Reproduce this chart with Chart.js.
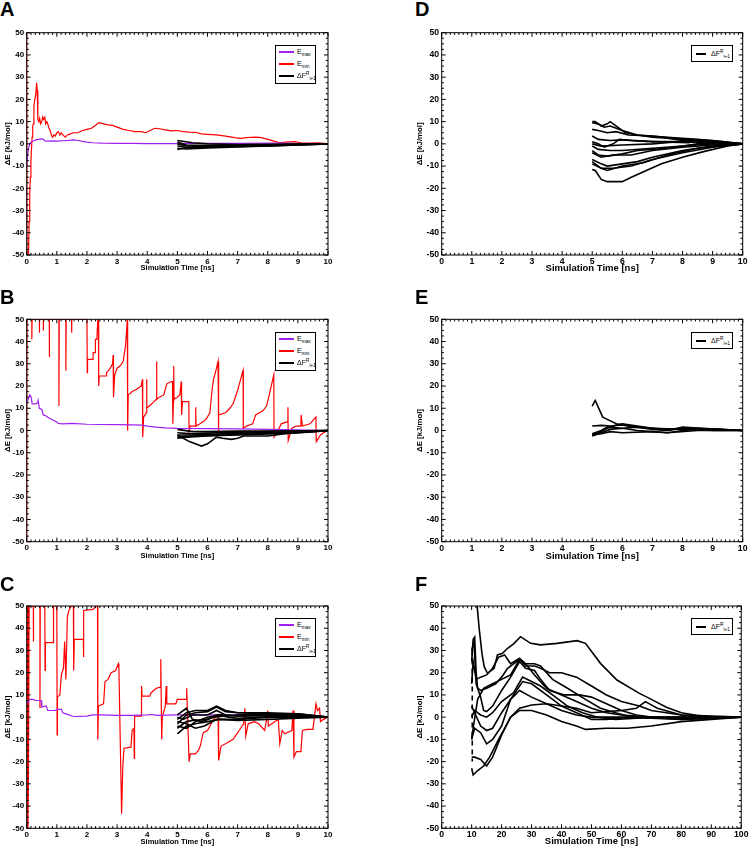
<!DOCTYPE html>
<html><head><meta charset="utf-8">
<script src="https://cdn.jsdelivr.net/npm/chart.js@4.4.1/dist/chart.umd.min.js"></script>
<style>
html,body{margin:0;padding:0;background:#fff;}
body{width:750px;height:847px;position:relative;overflow:hidden;font-family:'Liberation Sans',Arial,sans-serif;}
canvas{position:absolute;}
.pl{position:absolute;font:bold 20px 'Liberation Sans',Arial,sans-serif;line-height:20px;color:#000;}
.lg{position:absolute;border:1px solid #000;box-sizing:border-box;background:#fff;}
.it{position:absolute;left:0;top:0;height:2px;width:100%;}
.ln{position:absolute;top:0;height:2px;}
.tx{position:absolute;top:-4px;font:7px 'Liberation Sans',Arial,sans-serif;line-height:10px;white-space:nowrap;color:#000;}
.tx sub{font-size:4.8px;vertical-align:-2px;line-height:0;}
.tx sup{font-size:4.8px;vertical-align:3px;line-height:0;}
</style></head><body>
<script>
// ---------------- DATA ----------------
const xTicks10 = [0,1,2,3,4,5,6,7,8,9,10];
const xTicks100 = [0,10,20,30,40,50,60,70,80,90,100];
const yTicks = [-50,-40,-30,-20,-10,0,10,20,30,40,50];

// Panel A
const A_Emax = [[0,-10],[0.03,-5],[0.06,-2],[0.1,0],[0.15,0.8],[0.2,1.2],[0.3,1.8],[0.4,2],[0.5,2.2],[0.55,2],[0.6,1.3],[0.7,1.2],[0.85,1.3],[1.0,1.2],[1.2,1.4],[1.4,1.6],[1.55,1.8],[1.7,1.5],[1.85,1.1],[2.0,0.8],[2.2,0.5],[2.5,0.3],[3.0,0.2],[3.5,0.2],[4.0,0.1],[5.0,0.1],[6.0,0.2],[7.0,0.2],[8.0,0.3],[8.5,0.3],[9.0,0.1],[10,0]];
const A_Emin = [[0,50],[0.01,-50],[0.06,-50],[0.08,-35],[0.1,-22],[0.12,-15],[0.14,-8],[0.16,-2],[0.18,3],[0.2,8],[0.22,9],[0.24,17],[0.27,20],[0.3,22],[0.33,27.5],[0.35,24],[0.37,11],[0.4,10],[0.43,11.5],[0.46,9],[0.5,10],[0.53,12],[0.56,11],[0.6,12],[0.63,9],[0.67,10],[0.7,9],[0.74,7],[0.78,6],[0.82,4],[0.86,3],[0.9,4],[0.95,3.5],[1.0,5],[1.05,5.5],[1.1,4],[1.15,5],[1.2,4],[1.28,3],[1.35,4],[1.45,4.5],[1.55,5],[1.7,5],[1.85,6],[2.0,6.5],[2.15,7],[2.3,8.5],[2.4,9.5],[2.55,9],[2.7,8.5],[2.85,8.3],[3.0,7.5],[3.2,6.5],[3.4,6],[3.6,5.5],[3.8,5.5],[3.95,5],[4.1,6],[4.25,7],[4.4,6.8],[4.6,6.3],[4.8,5.8],[5.0,6],[5.2,5.5],[5.4,5.3],[5.6,5.2],[5.8,4.5],[6.0,4.3],[6.3,4],[6.6,3.5],[6.9,2.8],[7.1,2.5],[7.3,2.8],[7.6,3],[7.8,2.8],[8.0,2],[8.2,1.2],[8.4,0.5],[8.6,0.8],[8.9,1],[9.1,0.5],[9.4,0.3],[9.7,0.5],[10,0]];
const A_dF = [
 [[5,1.5],[5.5,0.5],[6,0],[7,-0.3],[8,-0.2],[9,-0.1],[10,0]],
 [[5,0.8],[5.3,-0.5],[6,-0.8],[7,-0.8],[8,-0.5],[9,-0.3],[10,0]],
 [[5,0],[5.3,-1],[6,-1.2],[7,-1],[8,-0.8],[9,-0.4],[10,0]],
 [[5,-1],[5.3,-1.5],[6,-1.5],[7,-1.2],[8,-0.9],[9,-0.5],[10,0]],
 [[5,-2],[5.3,-2.3],[6,-1.8],[7,-1.4],[8,-1],[9,-0.5],[10,0]],
 [[5,-2.5],[5.2,-2],[6,-1],[7,-0.7],[8,-0.4],[9,-0.2],[10,0]]
];

// Panel B
const B_Emax = [[0,13],[0.05,14],[0.1,16],[0.15,15],[0.18,12],[0.3,12],[0.36,12.5],[0.38,13.5],[0.42,10],[0.5,9.5],[0.55,7],[0.65,6.5],[0.75,5.5],[0.9,4.5],[1.0,3.8],[1.05,3.2],[1.2,3],[1.5,3.2],[2.0,2.8],[2.5,2.7],[3.0,2.6],[3.5,2.5],[3.8,2.4],[4.0,2],[4.3,1.5],[4.6,1.2],[5.0,1],[6.0,0.8],[7.0,0.7],[8.0,0.5],[9.0,0.3],[10,0]];
const B_Emin = [[0,-50],[0.01,50],[0.17,50],[0.17,41],[0.18,50],[0.42,50],[0.42,44],[0.43,50],[0.55,50],[0.55,45],[0.56,50],[0.75,50],[0.75,33],[0.76,50],[1.07,50],[1.07,11],[1.08,50],[1.3,50],[1.3,27],[1.31,50],[1.49,50],[1.49,44],[1.5,50],[2.0,50],[2.01,26],[2.02,32],[2.2,32],[2.21,35],[2.27,35],[2.28,41],[2.33,41],[2.36,50],[2.38,50],[2.39,20],[2.41,24.5],[2.64,24.5],[2.65,26],[2.72,27],[2.77,28],[2.85,30],[2.87,34],[2.88,15],[2.92,25],[3.0,28],[3.1,29],[3.2,31],[3.28,38],[3.34,50],[3.35,0],[3.37,16],[3.5,17.5],[3.65,18.5],[3.8,20],[3.84,23],[3.85,-3],[3.88,6],[3.97,8],[3.98,23],[3.99,10],[4.15,12],[4.3,14],[4.31,31],[4.32,14],[4.4,15],[4.55,16],[4.65,21],[4.8,22],[4.84,22],[4.85,3],[4.87,13],[4.88,29],[4.89,14],[5.0,15],[5.08,16],[5.13,22],[5.14,7],[5.17,13],[5.38,13],[5.39,-1],[5.42,2],[5.6,2],[5.61,10.5],[5.62,2],[5.75,3],[5.86,4],[5.95,5],[6.08,8],[6.15,18],[6.2,23],[6.3,28],[6.35,31],[6.36,-1],[6.38,7],[6.6,8],[6.74,10],[6.85,12],[7.0,18],[7.1,23],[7.18,27],[7.19,1],[7.3,2],[7.5,3],[7.6,7],[7.85,9],[7.96,11],[8.05,16],[8.15,22],[8.2,25],[8.21,-3],[8.3,-1],[8.45,3],[8.66,4],[8.67,10.5],[8.68,-4.5],[8.8,1],[8.95,2],[9.1,2],[9.11,7],[9.15,2],[9.4,3],[9.6,6],[9.61,-5],[9.75,-2],[9.85,-1],[10,0]];
const B_dF = [
 [[5,0.5],[5.5,-0.5],[6,-0.5],[7,-0.3],[8,-0.2],[9,-0.1],[10,0]],
 [[5,-1],[5.5,-1.5],[6,-1.2],[7,-0.8],[8,-0.5],[9,-0.3],[10,0]],
 [[5,-2],[5.5,-2],[6,-1.8],[7,-1.3],[8,-0.9],[9,-0.5],[10,0]],
 [[5,-3],[5.5,-2.5],[6,-2.2],[7,-1.8],[8,-1.3],[9,-0.7],[10,0]],
 [[5,-3.5],[5.3,-3],[6,-2.5],[7,-2],[8,-1.6],[9,-1],[10,0]],
 [[5,-2],[5.4,-5],[5.8,-7],[6,-6],[6.3,-3],[6.5,-3.5],[6.8,-4],[7,-3.5],[7.2,-2.5],[8,-2.5],[8.5,-1.5],[9,-1],[9.5,-0.6],[10,0]]
];

// Panel C
const C_Emax = [[0,6],[0.05,7],[0.1,8],[0.2,8],[0.3,7.5],[0.48,7.5],[0.5,4.5],[0.6,5],[0.65,5],[0.7,3],[0.95,3],[1.0,3.5],[1.15,3.5],[1.2,2],[1.3,1.5],[1.4,1],[1.5,0.5],[1.6,0.3],[2.0,0.5],[2.2,1],[2.5,1],[3.0,0.8],[3.5,0.8],[4.0,1],[4.2,1.2],[4.3,0.8],[5.0,1],[6.0,1],[7.0,1],[8.0,1],[9.0,0.8],[10,0]];
const C_Emin = [[0,-50],[0.02,50],[0.04,-50],[0.06,-24],[0.08,50],[0.22,50],[0.22,34],[0.23,50],[0.44,50],[0.44,4],[0.45,50],[0.6,50],[0.61,21],[0.62,33.5],[0.88,33.5],[0.89,50],[1.0,50],[1.01,-8],[1.02,9],[1.1,10],[1.15,19],[1.22,22],[1.26,34],[1.3,17],[1.35,45],[1.4,48],[1.48,50],[1.55,50],[1.56,21],[1.58,35],[1.88,35],[1.88,27],[1.9,48],[2.2,48.5],[2.3,50],[2.35,50],[2.36,-10],[2.38,5],[2.55,6],[2.6,16],[2.7,17],[2.8,20],[2.95,21],[3.04,24],[3.06,22],[3.15,-43.5],[3.19,-22],[3.23,-14],[3.46,-13.5],[3.5,-6],[3.56,-5],[3.57,-18.5],[3.58,0.5],[3.8,0.5],[3.81,14],[3.83,9.5],[4.08,9.5],[4.13,11],[4.3,13],[4.44,13.5],[4.45,26],[4.48,-10],[4.5,0],[4.6,5],[4.63,14],[4.65,6],[4.95,6],[5.0,8],[5.3,8],[5.31,13],[5.39,-20],[5.43,-16.5],[5.6,-16.5],[5.7,-15],[5.76,-13],[5.86,-7],[6.0,-6],[6.2,-1],[6.35,1],[6.37,-19.5],[6.45,-13],[6.6,-12],[6.85,-10],[6.95,-8],[7.05,-6],[7.2,-3],[7.24,4],[7.27,-8.5],[7.35,-3],[7.55,-2],[7.7,-3],[7.9,-6],[7.95,-2],[8.0,3],[8.02,-4],[8.35,-1],[8.4,-12],[8.48,-6],[8.56,-7.5],[8.8,-6],[8.84,3],[8.87,-18],[8.95,-15.5],[9.1,-15.5],[9.15,-6],[9.3,-5.5],[9.5,-5.5],[9.6,6],[9.65,3],[9.72,4],[9.75,-2],[9.85,-1],[10,0]];
const C_dF = [
 [[5,-1],[5.3,2],[5.6,3],[6,3],[6.3,5],[6.6,3],[7,2],[8,1.5],[9,1],[10,0]],
 [[5,-3],[5.3,1],[5.6,2],[6,2.5],[6.3,4.5],[6.6,2.5],[7,2],[8,2],[9,1.5],[10,0]],
 [[5,0],[5.2,-1],[5.5,1],[6,1],[6.3,3],[6.6,1],[7,0.5],[8,1],[9,1.5],[10,0]],
 [[5,-5],[5.3,-2],[5.5,-1.5],[6,-1],[6.3,1],[6.7,0],[7,-0.5],[8,0],[9,0],[10,0]],
 [[5,-7.5],[5.3,-4],[5.6,-3],[6,-2],[6.4,-1],[7,-1.5],[8,-1],[9,-0.5],[10,0]],
 [[5,-2],[5.3,-3],[5.6,-5],[5.9,-4],[6.3,-1],[6.7,-1],[7,-1],[8,0],[9,0.5],[10,0]],
 [[5,1],[5.3,4],[5.5,-1],[5.8,-2],[6.2,0],[6.6,0.5],[7,1],[8,1.5],[9,1],[10,0]],
 [[5,-4],[5.3,-5],[5.6,-2],[6,0],[6.4,1],[7,0.5],[8,0.5],[9,0.8],[10,0]]
];

// Panel D
const D_dF = [
 [[5,10],[5.1,10],[5.3,8],[5.5,9],[5.6,10],[5.8,8],[6.1,5],[6.5,4],[7,3],[7.5,2.5],[8,1.5],[9,1],[10,0]],
 [[5,9.5],[5.2,9],[5.4,7.5],[5.6,8],[6,6],[6.5,4],[7.5,3],[8.5,2],[9.3,1],[10,0]],
 [[5,6.5],[5.2,6],[5.5,5],[5.8,5.5],[6.2,4],[7,3.5],[8,2],[9,1.5],[10,0]],
 [[5,3.5],[5.2,2],[5.6,1.5],[6,1.8],[7,1],[8,1],[9,0.5],[10,0]],
 [[5,1],[5.2,0],[5.4,-1.5],[5.7,0],[5.9,2],[6.3,1.5],[7,1],[8.2,0.5],[8.5,1.5],[9,0.5],[10,0]],
 [[5,0],[5.3,-1],[6,-0.5],[7,0],[8.3,1.5],[9,1],[10,0]],
 [[5,-1],[5.2,-2.5],[5.6,-3],[6,-3],[7,-2],[8,-1],[9,0],[10,0]],
 [[5,-3],[5.2,-5],[5.5,-5.5],[6,-4.5],[6.5,-3],[7.5,-2],[8.5,0],[9.2,0.5],[10,0]],
 [[5,-4],[5.3,-6],[5.7,-5],[6.3,-5],[7,-3],[8,-1.5],[9,-0.5],[10,0]],
 [[5,-7],[5.3,-9],[5.5,-10],[6,-9],[6.5,-8],[7,-6],[8,-3],[9,-1],[10,0]],
 [[5,-8],[5.3,-11],[5.5,-12],[6,-10],[6.7,-8.5],[7.5,-5],[8.5,-2],[10,0]],
 [[5,-9],[5.3,-11],[5.7,-11],[6.3,-10],[7,-7],[8,-4],[9,-1.5],[10,0]],
 [[5,-11.5],[5.1,-12],[5.3,-16],[5.5,-17],[6,-17],[6.3,-15],[6.8,-12],[7.3,-9],[8,-6],[8.7,-3.5],[9.5,-1],[10,0]]
];

// Panel E
const E_dF = [
 [[5,11],[5.1,13.5],[5.35,6],[5.5,5],[5.8,3],[6,2.5],[6.5,1.5],[7,1],[8,0.5],[9,0.5],[10,0]],
 [[5,2],[5.3,2.3],[5.6,2],[6,2.5],[6.5,1.5],[7,0.5],[7.5,0],[8,1],[8.5,1],[9.3,0.5],[10,0]],
 [[5,-2],[5.2,-1],[5.5,1],[5.8,2.5],[6,3],[6.5,2],[7,1],[7.5,0],[8,1.5],[8.6,1],[10,0]],
 [[5,-2.5],[5.3,-1],[5.6,0.5],[6,1],[6.5,0],[7,-0.5],[7.5,-1],[8,0],[8.5,0.5],[9,0],[10,0]],
 [[5,-1.5],[5.3,0],[5.5,1.5],[6,1],[6.5,1.5],[7.5,0.5],[8.3,1],[10,0]],
 [[5,-2],[5.3,-1.5],[5.6,-0.5],[6,-1],[7,-0.5],[7.5,-1],[8.5,0],[10,0]]
];

// Panel F
const F_dF = [
 [[11.7,52],[12.5,40],[13.5,28],[14.2,22.7],[15.3,19.7],[17.5,22],[18.6,28],[20.3,28.7],[22,31],[24,33],[26.3,36.2],[29.7,33.2],[33,32.5],[38.5,33.2],[45.2,34.4],[48,33.2],[53,24.2],[58.5,16.7],[66,10.7],[70,8],[75,4.5],[80,2],[85,0.8],[90,0.3],[100,0]],
 [[10,25],[10.5,35],[11,36],[11.5,20],[12,13],[13,12],[15,13],[18,15],[20,18],[22,22],[24,24],[26,26],[28,23],[31,23],[33,22],[36,20],[40,20],[45,18],[50,14],[55,10],[60,7],[66,5],[70,3],[80,1],[90,0.5],[100,0]],
 [[10,30],[10.8,34],[11.5,15],[13,9],[14,3],[15,2.5],[17,5],[20,12],[23,18],[26,25],[28,22],[31,21],[33,17],[36,12],[41,10],[46,10],[50,9],[55,6],[60,3],[65,1],[70,0],[80,-0.5],[90,0],[100,0]],
 [[10,15],[10.5,25],[11.5,17],[13,18],[15,19],[17,22],[19,27],[21,28],[23,24],[26,26.5],[28,24],[31,24],[33,23],[37,17],[42,13],[48,8],[53,4],[58,2],[62,0.5],[66,0],[75,0],[85,0],[100,0]],
 [[10,5],[11,2],[13,-4],[15,-6],[17,-5],[20,2],[23,8],[26,12],[30,9],[35,6],[40,3],[45,1],[50,0],[55,0],[62,0],[70,-0.5],[80,-1],[90,-0.5],[100,0]],
 [[10,-10],[11,-5],[13,-7],[15,-12],[17,-10],[20,-4],[23,8],[27,16],[30,15],[35,10],[40,5],[45,2],[50,-1],[55,-1],[62,0],[70,0],[80,-1],[100,0]],
 [[10,-18],[11,-18],[13,-19],[15,-22],[17,-18],[20,-8],[23,0],[26,4],[30,5.5],[35,6],[40,5],[45,4],[50,2],[55,2.5],[60,3],[65,4],[68,7],[72,4],[80,1],[90,0],[100,0]],
 [[10,-23],[10.5,-26],[12,-24],[14,-22],[16,-18],[19,-10],[21,-5],[23,0],[26,3],[30,3],[35,1],[40,-2],[45,-4],[48,-5.5],[55,-5],[62,-5],[70,-4],[80,-2],[90,-1],[100,0]],
 [[10,-10],[10.5,-5],[12,8],[14,13],[17,15],[20,17],[23,19],[26,26],[28,24],[31,19],[35,13],[40,10],[45,7],[50,4],[55,2],[60,1],[70,0],[80,-0.5],[100,0]],
 [[10,0],[11,3],[13,1],[15,0],[17,2],[20,7],[24,11],[27,18],[30,16],[33,14],[37,10],[42,5],[47,2],[52,0],[58,-1],[65,-0.5],[75,0],[90,0],[100,0]]
];
const F_start = [[10.2,30],[10.2,-20]];

// ---------------- LAYOUT ----------------
const PURPLE = '#a020f0', RED = '#ff0000', BLACK = '#000000';
const FONT = "'Liberation Sans', Arial, sans-serif";
const cols = {
  L: {left:0, width:340, yW:26.7, padR:12, tickFont:8, xTitleFont:7.5, yTitlePad:3.6, letterX:0},
  R: {left:400, width:350, yW:41.7, padR:7.3, tickFont:8.7, xTitleFont:9.5, yTitlePad:15.3, letterX:415}
};
const rows = {
  1: {top:20, height:262, padT:12.7, xH:27, tpad:{L:9.5, R:8}, letterY:-1},
  2: {top:300, height:265, padT:19.3, xH:23.3, tpad:{L:4.5, R:3.3}, letterY:287.4},
  3: {top:585, height:262, padT:21, xH:18.7, tpad:{L:0.8, R:0.3}, letterY:574}
};

const frameTicks = {
  id: 'frameTicks',
  afterDraw(chart, args, opts) {
    const {ctx, chartArea: a, scales: {x, y}} = chart;
    ctx.save();
    ctx.strokeStyle = '#000';
    ctx.lineWidth = 1;
    ctx.strokeRect(a.left, a.top, a.right - a.left, a.bottom - a.top);
    ctx.beginPath();
    const doScale = (scale, nMinor, horiz) => {
      const vals = scale.ticks.map(t => t.value);
      const seg = (p, len) => {
        if (horiz) {
          ctx.moveTo(p, a.bottom); ctx.lineTo(p, a.bottom - len);
          ctx.moveTo(p, a.top); ctx.lineTo(p, a.top + len);
        } else {
          ctx.moveTo(a.left, p); ctx.lineTo(a.left + len, p);
          ctx.moveTo(a.right, p); ctx.lineTo(a.right - len, p);
        }
      };
      for (let i = 0; i < vals.length; i++) {
        seg(scale.getPixelForValue(vals[i]), 4);
        if (i < vals.length - 1) {
          for (let k = 1; k < nMinor; k++) {
            seg(scale.getPixelForValue(vals[i] + (vals[i+1] - vals[i]) * k / nMinor), 2.2);
          }
        }
      }
    };
    doScale(x, opts.xMinor, true);
    doScale(y, opts.yMinor, false);
    ctx.stroke();
    ctx.restore();
  }
};

function line(data, color, width, dash) {
  return {
    data: data.map(p => ({x: p[0], y: p[1]})),
    showLine: true, borderColor: color, backgroundColor: color,
    borderWidth: width, pointRadius: 0, tension: 0,
    borderDash: dash || []
  };
}

function panel(letter, col, row, xTicks, datasets, legend) {
  const c = cols[col], r = rows[row];
  const cv = document.createElement('canvas');
  cv.width = c.width; cv.height = r.height;
  cv.style.left = c.left + 'px'; cv.style.top = r.top + 'px';
  cv.style.width = c.width + 'px'; cv.style.height = r.height + 'px';
  document.body.appendChild(cv);
  const xMin = xTicks[0], xMax = xTicks[xTicks.length - 1];
  new Chart(cv, {
    type: 'scatter',
    data: {datasets},
    options: {
      responsive: false, animation: false, devicePixelRatio: 1,
      layout: {padding: {top: r.padT, right: c.padR, left: 0, bottom: 0}},
      plugins: {legend: {display: false}, tooltip: {enabled: false}, frameTicks: {xMinor: 7, yMinor: 4}},
      scales: {
        x: {
          type: 'linear', min: xMin, max: xMax,
          afterBuildTicks: s => { s.ticks = xTicks.map(v => ({value: v})); },
          ticks: {autoSkip: false, maxRotation: 0, padding: 1.5, color: '#000',
                  font: {family: FONT, size: c.tickFont, weight: 'bold'}},
          grid: {display: false, drawTicks: false}, border: {display: false},
          title: {display: true, text: 'Simulation Time [ns]', color: '#000',
                  font: {family: FONT, size: c.xTitleFont, weight: 'bold', lineHeight: 1.2},
                  padding: {top: 0, bottom: r.tpad[col]}},
          afterFit: s => { s.height = r.xH; }
        },
        y: {
          type: 'linear', min: -50, max: 50,
          afterBuildTicks: s => { s.ticks = yTicks.map(v => ({value: v})); },
          ticks: {autoSkip: false, padding: 2.6, color: '#000',
                  font: {family: FONT, size: c.tickFont, weight: 'bold'}},
          grid: {display: false, drawTicks: false}, border: {display: false},
          title: {display: true, text: 'ΔE [kJ/mol]', color: '#000',
                  font: {family: FONT, size: 7.8, weight: 'bold', lineHeight: 1.2},
                  padding: {top: c.yTitlePad, bottom: 0}},
          afterFit: s => { s.width = c.yW; }
        }
      }
    },
    plugins: [frameTicks]
  });
  // panel letter
  const pl = document.createElement('div');
  pl.className = 'pl'; pl.textContent = letter;
  pl.style.left = c.letterX + 'px';
  pl.style.top = r.letterY + 'px';
  document.body.appendChild(pl);
  // legend
  const lg = document.createElement('div');
  lg.className = 'lg';
  const areaTop = r.top + r.padT;
  const areaRight = c.left + c.width - c.padR;
  const boxTop = Math.round(areaTop + 12.3);
  if (legend.length === 3) {
    lg.style.left = Math.round(areaRight - 53) + 'px'; lg.style.top = boxTop + 'px';
    lg.style.width = '41px'; lg.style.height = '39px';
    const ys = [5, 17, 29];
    legend.forEach((it, i) => {
      const d = document.createElement('div'); d.className = 'it'; d.style.top = ys[i] + 'px';
      d.innerHTML = '<span class="ln" style="left:3px;width:15px;background:' + it.color + '"></span>' +
                    '<span class="tx" style="left:21px">' + it.html + '</span>';
      lg.appendChild(d);
    });
  } else {
    lg.style.left = Math.round(areaRight - 52) + 'px'; lg.style.top = boxTop + 'px';
    lg.style.width = '42px'; lg.style.height = '17px';
    const it = legend[0];
    const d = document.createElement('div'); d.className = 'it'; d.style.top = '7px';
    d.innerHTML = '<span class="ln" style="left:4px;width:10px;background:' + it.color + '"></span>' +
                  '<span class="tx" style="left:19px">' + it.html + '</span>';
    lg.appendChild(d);
  }
  document.body.appendChild(lg);
}

const LEG3 = [
  {color: PURPLE, html: 'E<sub>max</sub>'},
  {color: RED, html: 'E<sub>min</sub>'},
  {color: BLACK, html: 'ΔF<sup>R</sup><sub>i+1</sub>'}
];
const LEG1 = [{color: BLACK, html: 'ΔF<sup>R</sup><sub>i+1</sub>'}];

const blk = arr => arr.map(d => line(d, BLACK, 1.6));

panel('A', 'L', 1, xTicks10, [...blk(A_dF), line(A_Emax, PURPLE, 1.2), line(A_Emin, RED, 1.2)], LEG3);
panel('B', 'L', 2, xTicks10, [...blk(B_dF), line(B_Emax, PURPLE, 1.2), line(B_Emin, RED, 1.2)], LEG3);
panel('C', 'L', 3, xTicks10, [...blk(C_dF), line(C_Emax, PURPLE, 1.2), line(C_Emin, RED, 1.2)], LEG3);
panel('D', 'R', 1, xTicks10, blk(D_dF), LEG1);
panel('E', 'R', 2, xTicks10, blk(E_dF), LEG1);
panel('F', 'R', 3, xTicks100, [...blk(F_dF), line(F_start, BLACK, 1.6, [5, 4])], LEG1);
</script>
</body></html>
